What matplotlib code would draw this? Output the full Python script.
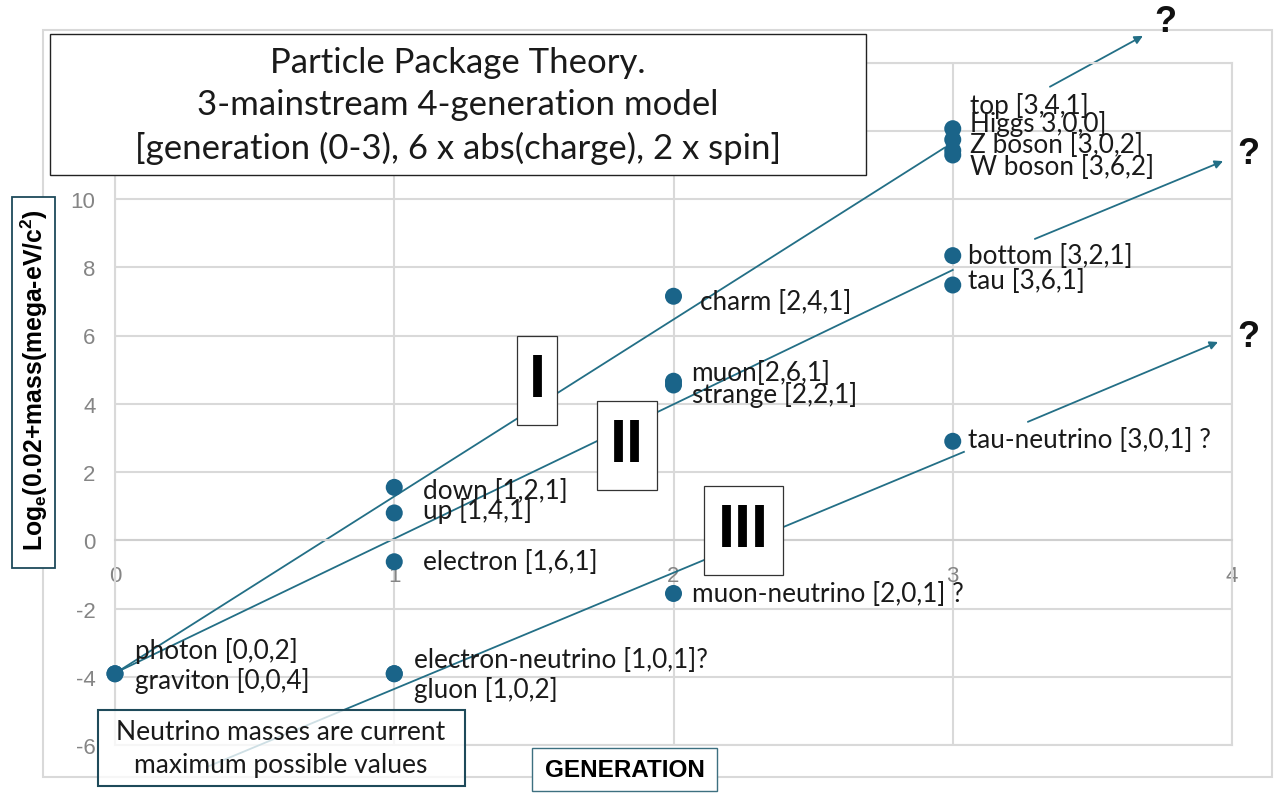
import matplotlib
matplotlib.use("Agg")
import matplotlib.pyplot as plt
from matplotlib.patches import Rectangle

plt.rcParams["axes.unicode_minus"] = False

# ---------------- data ----------------
gen = [0, 0, 1, 1, 1, 1, 1, 2, 2, 2, 2, 3, 3, 3, 3, 3, 3, 3]
logm = [-3.912, -3.912, 1.55, 0.80, -0.63, -3.91, -3.912,
        7.15, 4.66, 4.55, -1.56,
        12.06, 11.74, 11.42, 11.29, 8.34, 7.48, 2.90]
labels = ["photon [0,0,2]", "graviton [0,0,4]",
          "down [1,2,1]", "up [1,4,1]", "electron [1,6,1]",
          "electron-neutrino [1,0,1]?", "gluon [1,0,2]",
          "charm [2,4,1]", "muon[2,6,1]", "strange [2,2,1]",
          "muon-neutrino [2,0,1] ?",
          "top [3,4,1]", "Higgs 3,0,0]", "Z boson [3,0,2]", "W boson [3,6,2]",
          "bottom [3,2,1]", "tau [3,6,1]", "tau-neutrino [3,0,1] ?"]
# label offsets from their point, in pixels (dx right, dy up)
label_dx = [20, 20, 29, 29, 29, 20, 20, 27, 18, 18, 19, 17, 17, 17, 17, 15, 15, 15]
label_dy = [24, -6, -3, 3, 0, 14, -15, -5, 9, -9, 0, 24, 17, 6, -12, 0, 4, 2]

# hand-drawn guide lines (generation, log mass) start/end
guide_start = [(0.01, -3.85), (0.01, -3.85), (0.33, -6.64)]
guide_end = [(2.97, 11.50), (3.00, 7.92), (3.04, 2.59)]
arrow_start = [(3.348, 13.29), (3.294, 8.83), (3.269, 3.47)]
arrow_end = [(3.681, 14.78), (3.968, 11.11), (3.950, 5.81)]

xticks = [0, 1, 2, 3, 4]
yticks = [-6, -4, -2, 0, 2, 4, 6, 8, 10, 12, 14]

title_lines = ["Particle Package Theory.",
               "3-mainstream 4-generation model",
               "[generation (0-3), 6 x abs(charge), 2 x spin]"]
note_lines = ["Neutrino masses are current", "maximum possible values"]
ylabel = r"Log$_\mathregular{e}$(0.02+mass(mega-eV/c$^\mathregular{2}$)"
xlabel = "GENERATION"
romans = ["I", "II", "III"]

# ---------------- style ----------------
FONT = "Lato"
DOT = "#1a6489"
LINE = "#236f86"
GRID = "#d9d9d9"
W, H = 1279, 812

fig = plt.figure(figsize=(W / 100, H / 100), dpi=100)
fig.patch.set_facecolor("white")

def fx(px):
    return px / W

def fy(py):
    return 1 - py / H

# outer chart border
fig.add_artist(Rectangle((fx(43), fy(778)), fx(1229), 747 / H, transform=fig.transFigure,
                         fill=False, edgecolor=GRID, lw=1.5, zorder=0))

ax = fig.add_axes([fx(115), fy(746), fx(1117), 682.5 / H])
ax.set_xlim(0, 4)
ax.set_ylim(-6, 14)
ax.set_xticks(xticks)
ax.set_yticks(yticks)
ax.grid(True, color=GRID, lw=1.5, zorder=0)
ax.set_axisbelow(True)
for s in ["top", "right", "left"]:
    ax.spines[s].set_color(GRID)
    ax.spines[s].set_linewidth(1.5)
ax.spines["bottom"].set_position(("data", 0))
ax.spines["bottom"].set_color("#cfcfcf")
ax.spines["bottom"].set_linewidth(1.5)
ax.axhline(-6, color=GRID, lw=1.5, clip_on=False, zorder=0)
ax.tick_params(axis="both", length=0, colors="#858585", labelsize=16)
ax.tick_params(axis="y", pad=14)
ax.tick_params(axis="x", pad=18)
for t in ax.get_xticklabels() + ax.get_yticklabels():
    t.set_fontfamily("Liberation Sans")

# guide lines
for (x0, y0), (x1, y1) in zip(guide_start, guide_end):
    ax.plot([x0, x1], [y0, y1], color=LINE, lw=1.3, zorder=2, clip_on=False)
for (x0, y0), (x1, y1) in zip(arrow_start, arrow_end):
    ax.annotate("", xy=(x1, y1), xytext=(x0, y0), annotation_clip=False,
                arrowprops=dict(arrowstyle="-|>", color=LINE, lw=1.3,
                                mutation_scale=12, shrinkA=0, shrinkB=0), zorder=2)

# points
ax.scatter(gen, logm, s=150, color=DOT, zorder=4, clip_on=False, edgecolors="none")

# labels
for x, y, t, dx, dy in zip(gen, logm, labels, label_dx, label_dy):
    ax.annotate(t, (x, y), xytext=(dx, dy), textcoords="offset pixels",
                ha="left", va="center", fontsize=18.8, family=FONT, color="#1a1a1a", zorder=3)

# question marks
for (qx, qy) in [(1165, 22), (1248, 155), (1248, 338)]:
    fig.text(fx(qx), fy(qy), "?", ha="center", va="center", fontsize=26,
             fontweight="bold", family="Liberation Sans", color="#111111")

# title box
fig.add_artist(Rectangle((fx(50), fy(176)), fx(816), 141 / H, transform=fig.transFigure,
                         facecolor="white", edgecolor="#222222", lw=1.0, zorder=5))
for t, py in zip(title_lines, [63, 105, 148]):
    fig.text(fx(458), fy(py), t, ha="center", va="center", fontsize=25,
             family=FONT, color="#1a1a1a", zorder=6)

# y label box
fig.add_artist(Rectangle((fx(12), fy(569)), fx(43), 371 / H, transform=fig.transFigure,
                         facecolor="white", edgecolor="#1e4a5a", lw=1.3, zorder=5))
fig.text(fx(34), fy(380), ylabel, rotation=90, ha="center", va="center", fontsize=17.8,
         fontweight="bold", family="Liberation Sans", color="black", zorder=6)

# x label box
fig.add_artist(Rectangle((fx(532), fy(792)), fx(185), 43 / H, transform=fig.transFigure,
                         facecolor="white", edgecolor="#3d7080", lw=1.0, zorder=5))
fig.text(fx(624.5), fy(771), xlabel, ha="center", va="center", fontsize=17.5,
         fontweight="bold", family="Liberation Sans", color="black", zorder=6)

# note box
fig.add_artist(Rectangle((fx(98), fy(787)), fx(367), 76 / H, transform=fig.transFigure,
                         facecolor=(1, 1, 1, 0.78), edgecolor="#1e4a5a", lw=1.5, zorder=5))
for t, py in zip(note_lines, [733, 766]):
    fig.text(fx(281), fy(py), t, ha="center", va="center", fontsize=19,
             family=FONT, color="#1a1a1a", zorder=6)

# roman numeral boxes
for r, (bx0, by0, bx1, by1) in zip(romans, [(517, 337, 557, 426), (597, 402, 657, 491),
                                            (704, 487, 783, 576)]):
    fig.add_artist(Rectangle((fx(bx0), fy(by1)), fx(bx1 - bx0), (by1 - by0) / H,
                             transform=fig.transFigure, facecolor="white",
                             edgecolor="#333333", lw=0.9, zorder=5))
    fig.text(fx((bx0 + bx1) / 2), fy((by0 + by1) / 2), r, ha="center", va="center",
             fontsize=44, fontweight="bold", family="Liberation Sans", color="black", zorder=6)

fig.savefig("out.png", dpi=100)
